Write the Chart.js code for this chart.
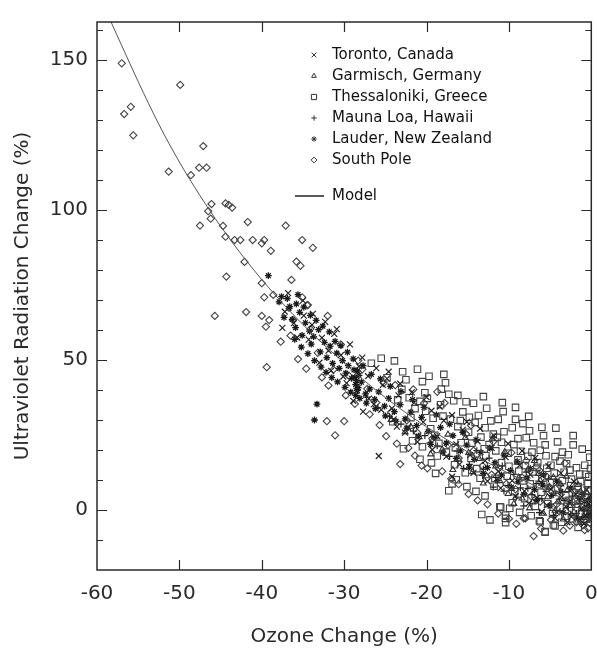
<!DOCTYPE html>
<html>
<head>
<meta charset="utf-8">
<script src="https://cdn.jsdelivr.net/npm/chart.js@4/dist/chart.umd.min.js"></script>
<style>
html,body{margin:0;padding:0;background:#fff;}
#wrap{width:597px;height:649px;position:relative;}
</style>
</head>
<body>
<div id="wrap"><canvas id="c" width="597" height="649"></canvas></div>
<script>
// ---- data ----
const xTickLabels = ['-60','-50','-40','-30','-20','-10','0'];
const yTickLabels = ['0','50','100','150'];
const seriesLabels = ['Toronto, Canada','Garmisch, Germany','Thessaloniki, Greece','Mauna Loa, Hawaii','Lauder, New Zealand','South Pole'];

const toronto = [[-25.8,18.0],[-27.7,32.8],[-23.6,27.8],[-24.6,46.1],[-28.9,36.4],[-16.9,11.1],
[-37.2,66.1],[-36.1,62.3],[-34.9,64.8],[-33.9,61.7],[-32.7,57.4],[-31.9,53.1],[-31.2,58.7],[-30.4,51.6],[-29.7,42.3],[-28.2,47.9],[-27.1,44.6],[-26.4,35.2],[-25.3,41.7],[-24.2,33.9],[-23.4,38.2],[-22.2,27.4],[-21.5,35.8],[-20.4,29.3],[-19.4,33.1],[-18.7,24.6],[-17.9,29.8],[-16.4,21.9],[-15.6,26.7],[-14.7,18.3],[-13.8,22.9],[-12.9,16.4],[-12.1,20.7],[-11.3,12.9],[-10.4,17.6],[-9.6,9.8],[-8.7,14.9],[-8.1,6.3],[-7.4,11.8],[-6.6,4.1],[-6.1,9.2],[-5.4,1.6],[-4.9,6.9],[-4.2,-0.8],[-3.6,4.4],[-3.1,1.2],[-2.4,-2.3],[-1.9,5.3],[-1.2,0.4],[-0.7,-1.8],[-0.3,2.1],
[-37.5,60.7],[-36.8,72.3],[-35.7,57.5],[-35.0,69.8],[-34.3,56.8],[-33.8,65.4],[-33.0,49.1],[-32.3,62.7],[-31.6,46.4],[-30.9,60.3],[-30.1,44.5],[-29.3,55.2],[-28.5,39.7],[-27.8,50.8],[-27.0,37.1],[-26.1,47.3],[-25.5,33.4],[-24.8,43.8],[-24.0,30.2],[-23.2,42.1],[-22.6,25.8],[-21.8,39.2],[-21.1,22.7],[-20.0,37.6],[-19.3,20.1],[-18.4,34.5],[-17.6,17.8],[-16.9,31.6],[-16.0,15.2],[-15.1,29.4],[-14.3,12.4],[-13.5,27.1],[-12.6,9.6],[-11.8,24.8],[-11.0,7.3],[-10.1,22.1],[-9.2,4.6],[-8.4,19.7],[-7.6,2.2],[-6.8,17.4],[-6.0,-0.6],[-5.2,14.6],[-4.4,-2.7],[-3.7,12.3],[-2.9,-4.1],[-2.1,9.5],[-1.4,-3.2],[-0.6,6.8],[-0.1,0.9],[-0.9,-4.6]];

const garmisch = [[-18.1,20.2],[-16.1,16.8],[-15.3,24.1],[-14.4,12.7],[-13.6,17.1],[-12.7,11.3],[-12.0,23.8],[-11.1,9.7],[-10.5,19.4],[-9.7,7.1],[-9.0,15.8],[-8.4,3.9],[-7.7,13.5],[-7.1,2.6],[-6.4,12.1],[-5.8,-1.2],[-5.1,7.6],[-4.6,10.9],[-4.0,2.8],[-3.4,-3.1],[-2.9,6.7],[-2.1,-0.7],[-1.6,8.4],[-1.0,-2.6],[-0.5,5.7],[-0.2,-3.4],[-6.9,16.4],[-3.0,11.2],[-20.9,24.3],[-22.6,26.0],
[-24.3,30.1],[-21.9,27.8],[-19.5,18.6],[-17.4,25.2],[-16.8,13.4],[-14.9,19.1],[-13.1,8.9],[-11.6,14.6],[-10.1,5.4],[-8.8,10.8],[-7.5,0.6],[-6.2,9.9],[-5.3,4.3],[-4.4,-0.2],[-3.7,8.6],[-2.6,1.4],[-1.3,6.2],[-0.7,0.3],[-0.4,-1.9],[-9.4,2.1]];

const thessaloniki = [[-25.5,50.6],[-23.9,49.7],[-26.7,48.9],[-21.1,46.9],[-17.9,45.2],[-17.7,42.4],[-20.5,42.8],[-22.9,46.1],[-13.1,37.8],[-10.8,35.8],[-9.2,34.2],[-9.2,30.2],[-14.3,35.6],[-12.7,33.9],[-11.3,30.2],[-16.7,36.4],[-19.9,37.2],[-24.1,29.4],[-20.5,21.1],[-20.8,16.9],[-18.7,18.0],[-18.9,12.2],[-17.3,6.4],[-16.9,8.7],[-15.3,12.4],[-11.7,10.6],[-11.1,1.1],[-9.6,2.4],[-21.7,23.1],[-7.5,26.4],[-5.8,24.8],[-5.6,21.7],[-2.2,24.8],[-2.2,21.7],[-10.6,26.1],[-7.0,22.4],[-4.4,17.8],[-2.6,13.3],[-1.4,12.0],[-1.6,7.8],[-0.2,0.6],[-12.3,-3.3],[-10.4,-4.2],[-10.4,-1.7],[-6.2,-3.9],[-4.6,-5.0],[-15.1,7.8],[-13.5,10.6],[-5.6,-7.2],[-0.4,8.9],[-11.0,0.9],[-9.9,0.6],[-6.3,-3.6],[-5.6,-7.4],[-4.4,-5.3],[-10.4,-2.8],
[-23.0,40.2],[-22.1,37.4],[-21.4,33.8],[-20.1,32.9],[-19.2,30.6],[-18.3,35.1],[-17.1,30.3],[-16.2,27.8],[-15.6,32.7],[-14.9,25.9],[-14.1,29.2],[-13.4,24.3],[-12.9,27.4],[-12.4,21.8],[-11.9,25.3],[-11.6,19.7],[-10.9,22.6],[-10.1,18.9],[-9.4,21.8],[-8.9,16.7],[-8.6,19.6],[-8.0,14.8],[-7.7,17.9],[-7.1,12.7],[-6.5,15.8],[-6.0,10.6],[-5.4,13.9],[-5.0,9.1],[-4.5,12.3],[-4.1,7.2],[-3.5,9.8],[-3.1,4.8],[-2.5,8.1],[-2.0,2.9],[-1.5,5.2],[-0.9,1.8],[-0.5,4.3],[-19.5,27.1],[-18.5,22.2],[-17.6,19.3],[-16.6,15.1],[-15.8,22.4],[-14.6,17.2],[-13.9,13.8],[-12.8,18.1],[-11.8,7.9],[-10.9,15.8],[-10.2,11.3],[-9.3,6.1],[-8.8,12.9],[-8.1,3.8],[-7.4,8.7],[-6.8,1.2],[-6.1,5.9],[-5.3,2.1],[-4.7,-1.2],[-3.8,0.9],[-3.2,-2.1],[-2.7,3.2],[-1.9,-0.2],[-1.2,-1.1],[-0.6,-3.0],[-20.2,39.1],[-18.2,40.3],[-16.2,38.2],[-14.8,30.9],[-3.5,19.3],[-8.3,28.8],[-6.2,19.9],[-4.1,22.7],[-0.8,14.9],[-0.3,11.1],[-0.2,17.6],[-1.1,20.3],[-3.0,15.4],[-7.9,24.1],
[-24.8,44.1],[-23.5,36.7],[-22.5,43.4],[-21.9,30.8],[-20.8,36.2],[-19.7,44.6],[-19.0,24.9],[-18.0,31.3],[-17.3,38.6],[-16.5,20.8],[-15.9,29.8],[-15.2,36.1],[-14.5,22.3],[-13.7,31.5],[-13.0,20.4],[-12.2,29.7],[-11.4,24.2],[-10.7,32.8],[-10.0,14.6],[-9.6,27.4],[-8.9,23.8],[-8.3,9.7],[-7.6,31.2],[-7.2,19.3],[-6.6,14.2],[-6.0,27.6],[-5.5,18.1],[-4.9,14.9],[-4.3,27.3],[-3.8,16.3],[-3.3,12.6],[-2.8,18.4],[-2.4,10.3],[-1.8,14.1],[-1.3,9.4],[-0.7,11.9],[-0.4,6.3],[-0.1,13.8],[-14.0,6.2],[-16.4,10.1],[-12.9,4.7],[-8.7,-0.8],[-7.3,-1.9],[-3.6,-4.1],[-2.3,-2.9],[-1.6,-5.8],[-0.9,-3.7],[-19.4,15.7],[-22.8,20.4],[-13.3,-1.5]];

const maunaLoa = [[-14.8,15.2],[-13.9,19.8],[-13.1,13.6],[-12.4,17.3],[-11.6,10.9],[-10.8,14.7],[-10.1,8.2],[-9.4,11.9],[-8.6,7.4],[-7.9,12.6],[-7.2,5.1],[-6.7,8.8],[-6.0,3.7],[-5.5,6.2],[-4.9,2.0],[-4.3,5.6],[-3.8,-0.4],[-3.3,3.1],[-2.8,0.9],[-2.3,4.6],[-1.8,-1.1],[-1.4,2.2],[-0.9,-0.3],[-0.4,1.5],[-0.1,-0.6],[-9.1,4.3],[-11.9,7.6],[-5.2,10.4],[-17.2,17.9],[-19.6,22.4],
[-27.3,37.6],[-25.9,34.1],[-24.5,31.2],[-23.1,28.6],[-21.6,26.3],[-20.2,24.8],[-18.7,21.4],[-16.3,19.6],[-15.5,13.9],[-13.2,11.5],[-10.6,6.3],[-8.2,1.4],[-6.3,-0.9],[-4.6,-1.8],[-2.5,-1.3],[-1.1,-2.2],[-0.3,3.9],[-7.7,7.2],[-3.9,3.6],[-2.0,1.9]];

const lauder = [[-39.2,78.1],[-37.6,71.1],[-36.6,67.8],[-35.8,68.7],[-36.7,67.2],[-33.3,35.3],[-33.6,30.0],
[-36.3,63.5],[-35.9,60.8],[-35.4,65.9],[-35.1,58.2],[-34.7,62.4],[-34.2,59.6],[-34.0,55.3],[-33.7,57.8],[-33.1,60.1],[-32.9,52.7],[-32.4,55.9],[-32.1,50.8],[-31.7,54.6],[-31.4,48.9],[-30.9,52.3],[-30.6,47.2],[-30.2,49.8],[-29.8,45.6],[-29.5,48.1],[-29.1,43.9],[-28.8,46.7],[-28.6,41.8],[-28.7,44.2],[-28.4,39.9],[-27.9,42.6],[-27.4,38.7],[-26.9,40.3],[-26.3,36.9],[-25.8,39.4],[-25.1,34.6],[-24.6,37.2],[-23.9,32.8],[-23.2,35.1],[-22.6,30.4],[-21.9,32.6],[-21.2,28.1],[-20.6,30.9],[-19.8,26.2],[-19.1,24.1],[-18.3,27.5],[-17.6,22.3],[-16.8,24.8],[-15.9,19.7],[-15.1,21.6],[-14.2,16.9],[-13.4,19.2],[-12.6,14.1],[-11.7,15.8],[-10.9,11.6],[-9.8,13.2],[-8.9,9.4],[-7.8,10.7],[-6.9,6.8],[-5.9,8.3],[-4.8,4.9],[-3.7,6.2],[-2.6,2.7],[-1.5,3.9],[-0.6,0.8],
[-37.9,69.4],[-37.3,64.2],[-36.9,70.5],[-36.0,56.9],[-35.6,71.8],[-35.2,54.3],[-34.9,67.6],[-34.4,52.1],[-34.1,64.9],[-33.6,49.8],[-33.4,63.2],[-32.8,47.6],[-32.6,61.3],[-32.2,45.9],[-31.8,59.4],[-31.5,44.1],[-31.1,56.2],[-30.8,42.7],[-30.4,54.8],[-29.9,40.9],[-29.6,52.6],[-29.2,39.3],[-28.9,50.4],[-28.4,46.3],[-28.1,37.2],[-27.7,48.1],[-27.3,35.6],[-26.7,45.2],[-26.2,33.8],[-25.6,43.7],[-25.0,31.4],[-24.4,41.2],[-23.7,29.6],[-23.1,39.5],[-22.4,27.3],[-21.7,36.8],[-21.0,24.6],[-20.3,34.2],[-19.5,21.9],[-18.8,31.7],[-18.0,19.3],[-17.2,28.6],[-16.4,17.2],[-15.6,25.9],[-14.8,14.3],[-14.0,23.4],[-13.1,12.2],[-12.3,20.6],[-11.4,9.8],[-10.6,18.3],[-9.7,7.6],[-9.0,16.1],[-8.2,5.2],[-7.4,13.8],[-6.6,3.4],[-5.8,11.7],[-5.0,1.3],[-4.2,9.6],[-3.4,-0.9],[-2.5,7.3],[-1.8,-2.4],[-1.0,5.2],[-0.3,-1.6],[-0.8,2.9],[-0.2,3.6],
[-28.5,43.1],[-28.3,40.8],[-28.6,38.2],[-28.2,44.9]];

const southPole = [[-57.0,148.9],[-49.9,141.7],[-56.7,132.0],[-55.9,134.4],[-55.6,124.9],[-47.1,121.3],[-51.3,112.8],[-48.6,111.6],[-47.6,114.1],[-46.7,114.1],[-46.1,102.0],[-46.5,99.6],[-46.2,97.1],[-47.5,94.8],[-44.4,102.2],[-44.0,101.7],[-43.6,100.8],[-44.7,94.7],[-44.4,91.1],[-43.3,90.0],[-42.6,90.0],[-41.7,96.0],[-41.1,90.0],[-40.0,88.9],[-39.7,90.0],[-38.9,86.4],[-37.1,94.8],[-35.1,90.0],[-33.8,87.4],[-42.1,82.7],[-44.3,77.8],[-40.0,75.6],[-36.4,76.7],[-35.8,82.8],[-35.3,81.4],[-39.7,70.9],[-38.6,71.7],[-35.1,70.9],[-34.5,68.3],[-45.7,64.7],[-41.9,66.0],[-40.0,64.7],[-39.1,63.3],[-39.5,61.1],[-37.7,56.1],[-39.4,47.6],[-34.4,68.3],[-32.0,64.7],[-32.1,29.6],[-30.0,29.6],[-31.1,24.9],[-23.2,15.3],[-19.9,13.9],[-8.2,-2.8],[-1.0,-5.0],[-18.7,39.4],[-3.2,15.6],[-7.0,-8.7],[-0.8,-6.7],[-1.8,-4.0],[-1.3,-3.6],[-0.4,-6.1],[-8.0,-2.8],
[-33.2,52.4],[-31.3,46.8],[-29.4,44.7],[-27.2,40.4],[-26.1,35.8],[-24.3,32.6],[-22.4,29.9],[-21.1,25.7],[-19.3,23.8],[-17.4,21.6],[-16.1,17.3],[-14.3,19.8],[-13.2,14.7],[-12.1,11.8],[-11.2,13.9],[-10.3,8.7],[-9.2,6.9],[-8.4,10.8],[-7.3,4.6],[-6.2,2.8],[-5.1,7.7],[-4.2,1.9],[-3.1,-0.4],[-2.2,2.6],[-1.1,0.9],[-0.5,-2.2],[-28.3,49.8],[-25.2,42.3],[-20.3,35.6],[-15.2,25.3],[-30.4,55.2],[-34.1,60.3],[-36.2,63.4],[-36.5,58.1],
[-35.6,50.3],[-34.6,47.1],[-32.7,44.2],[-31.9,41.5],[-29.8,38.2],[-28.7,35.4],[-26.9,31.9],[-25.7,28.3],[-24.9,24.6],[-23.6,22.1],[-22.2,20.7],[-21.4,18.1],[-20.6,14.8],[-18.1,12.9],[-17.0,10.4],[-16.1,8.6],[-14.9,5.3],[-13.8,3.2],[-12.6,1.9],[-11.3,-1.2],[-10.0,-2.9],[-9.1,-4.6],[-6.1,-6.2],[-4.9,-3.3],[-3.4,-6.9],[-2.6,-5.2],[-0.2,-4.3],[-27.8,46.9],[-23.8,41.6],[-21.6,40.2],[-17.8,35.7],[-14.6,28.2],[-11.9,22.8],[-9.7,19.1],[-7.9,16.4],[-6.3,13.2],[-5.4,11.1],[-3.9,8.3],[-2.0,6.1],[-1.2,4.7]];

const modelX = [-58.3,-57,-55,-52.5,-50,-47.5,-45,-42.5,-40,-37.5,-35,-32.5,-30,-27.5,-25,-22.5,-20,-17.5,-15,-12.5,-10,-7.5,-5,-2.5,0];
const modelY = [162.7,154.8,142.8,128.6,116,104.8,94.6,85.3,76.8,69,61.8,55.2,49,43,37.5,32.4,27.7,23.4,19.4,15.7,12.2,8.9,5.8,2.8,0];

// ---- chart ----
const INK = '#2a2a2a';
function pts(arr){ return arr.map(p => ({x:p[0], y:p[1]})); }
const styles = [
  {style:'crossRot', r:4.2, color:'#222', w:1.2},
  {style:'triangle', r:3.4, color:'#333', w:1.1},
  {style:'rect', r:4.6, color:'#444', w:1.1},
  {style:'cross', r:3.4, color:'#222', w:1.2},
  {style:'star', r:3.4, color:'#1a1a1a', w:1.3},
  {style:'rectRot', r:3.6, color:'#444', w:1.1}
];
const seriesData = [toronto, garmisch, thessaloniki, maunaLoa, lauder, southPole];

const datasets = seriesData.map((d,i) => ({
  type:'scatter',
  label: seriesLabels[i],
  data: pts(d),
  pointStyle: styles[i].style,
  pointRadius: styles[i].r,
  pointHoverRadius: styles[i].r,
  pointBorderWidth: styles[i].w,
  borderColor: styles[i].color,
  backgroundColor: 'rgba(0,0,0,0)',
  showLine:false,
  order: 2
}));
datasets.push({
  type:'line',
  label:'Model',
  data: modelX.map((x,i)=>({x:x, y:modelY[i]})),
  borderColor:'#555',
  borderWidth:1,
  pointRadius:0,
  fill:false,
  cubicInterpolationMode:'monotone',
  order: 1
});

function drawMarker(ctx, style, x, y, r){
  ctx.beginPath();
  const c = Math.SQRT1_2 * r;
  switch(style){
    case 'crossRot':
      ctx.moveTo(x-c,y-c);ctx.lineTo(x+c,y+c);ctx.moveTo(x-c,y+c);ctx.lineTo(x+c,y-c);break;
    case 'cross':
      ctx.moveTo(x-r,y);ctx.lineTo(x+r,y);ctx.moveTo(x,y-r);ctx.lineTo(x,y+r);break;
    case 'star':
      ctx.moveTo(x-r,y);ctx.lineTo(x+r,y);ctx.moveTo(x,y-r);ctx.lineTo(x,y+r);
      ctx.moveTo(x-c,y-c);ctx.lineTo(x+c,y+c);ctx.moveTo(x-c,y+c);ctx.lineTo(x+c,y-c);break;
    case 'rect':
      ctx.rect(x-c,y-c,2*c,2*c);break;
    case 'rectRot':
      ctx.moveTo(x,y-r);ctx.lineTo(x+r,y);ctx.lineTo(x,y+r);ctx.lineTo(x-r,y);ctx.closePath();break;
    case 'triangle':
      ctx.moveTo(x,y-r);ctx.lineTo(x+r*0.87,y+r*0.5);ctx.lineTo(x-r*0.87,y+r*0.5);ctx.closePath();break;
  }
  ctx.stroke();
}

const framePlugin = {
  id:'frame',
  afterDatasetsDraw(chart){
    const ctx = chart.ctx, a = chart.chartArea;
    const xs = chart.scales.x, ys = chart.scales.y;
    ctx.save();
    ctx.strokeStyle = INK;
    ctx.lineWidth = 1.5;
    ctx.strokeRect(a.left, a.top, a.right-a.left, a.bottom-a.top);
    ctx.lineWidth = 1.2;
    ctx.beginPath();
    for (let v=-50; v<0; v+=10){
      const px = Math.round(xs.getPixelForValue(v))+0.5;
      ctx.moveTo(px, a.bottom); ctx.lineTo(px, a.bottom-10);
      ctx.moveTo(px, a.top); ctx.lineTo(px, a.top+10);
    }
    for (let v=-10; v<=160; v+=10){
      const py = Math.round(ys.getPixelForValue(v))+0.5;
      const len = (v%50===0) ? 10 : 6;
      ctx.moveTo(a.left, py); ctx.lineTo(a.left+len, py);
      ctx.moveTo(a.right, py); ctx.lineTo(a.right-len, py);
    }
    ctx.stroke();
    ctx.restore();
  }
};

const legendPlugin = {
  id:'customLegend',
  afterDraw(chart){
    const ctx = chart.ctx;
    ctx.save();
    ctx.font = '15px "DejaVu Sans"';
    ctx.fillStyle = '#111';
    ctx.textBaseline = 'middle';
    const rows = [55,76,97,118,139,160];
    seriesLabels.forEach((lab,i)=>{
      ctx.strokeStyle = '#333';
      ctx.lineWidth = 1;
      drawMarker(ctx, styles[i].style, 314, rows[i], styles[i].r*0.8);
      ctx.fillText(lab, 332, rows[i]);
    });
    ctx.strokeStyle = '#222';
    ctx.lineWidth = 1.5;
    ctx.beginPath(); ctx.moveTo(295,196); ctx.lineTo(324,196); ctx.stroke();
    ctx.fillText('Model', 332, 196);
    ctx.restore();
  }
};

new Chart(document.getElementById('c'), {
  data:{ datasets },
  options:{
    responsive:false,
    animation:false,
    layout:{ padding:{ top:22, right:3, left:0, bottom:0 } },
    plugins:{ legend:{display:false}, tooltip:{enabled:false} },
    scales:{
      x:{
        type:'linear', min:-60, max:0,
        grid:{display:false, drawTicks:false},
        border:{display:false},
        ticks:{
          stepSize:10, autoSkip:false, maxRotation:0, padding:12,
          color:INK, font:{family:'"DejaVu Sans"', size:20},
          callback:(v)=>{ const s=String(Math.round(v)); return xTickLabels.includes(s)?s:''; }
        },
        title:{display:true, text:'Ozone Change (%)', color:INK, font:{family:'"DejaVu Sans"', size:20}, padding:{top:0,bottom:0}},
        afterFit:(s)=>{ s.height = 79; s.paddingLeft = 0; s.paddingRight = 0; }
      },
      y:{
        type:'linear', min:-20, max:162.67,
        grid:{display:false, drawTicks:false},
        border:{display:false},
        ticks:{
          stepSize:10, autoSkip:false, padding:9,
          color:INK, font:{family:'"DejaVu Sans"', size:20},
          callback:(v)=>{ const s=String(Math.round(v)); return (Math.abs(v-Math.round(v))<1e-6 && yTickLabels.includes(s))?s:''; }
        },
        title:{display:true, text:'Ultraviolet Radiation Change (%)', color:INK, font:{family:'"DejaVu Sans"', size:20}, padding:{top:11,bottom:0}},
        afterFit:(s)=>{ s.width = 97; s.paddingTop = 0; s.paddingBottom = 0; }
      }
    }
  },
  plugins:[framePlugin, legendPlugin]
});
</script>
</body>
</html>
